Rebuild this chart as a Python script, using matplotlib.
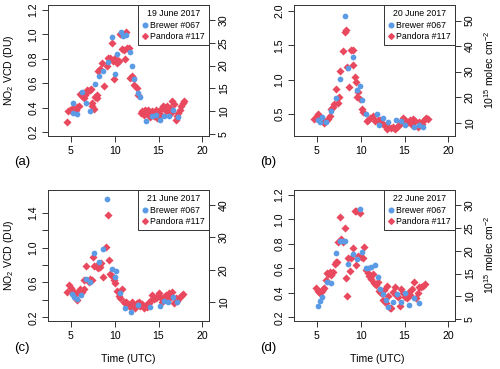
import matplotlib
matplotlib.use("Agg")
import matplotlib.pyplot as plt
from matplotlib.lines import Line2D

plt.rcParams["font.family"] = ["Liberation Sans", "DejaVu Sans"]
plt.rcParams["mathtext.fontset"] = "custom"
plt.rcParams["mathtext.rm"] = "Liberation Sans"
plt.rcParams["mathtext.it"] = "Liberation Sans:italic"

# ---------------- data ----------------
dates = ["19 June 2017", "20 June 2017", "21 June 2017", "22 June 2017"]
panel_tags = ["(a)", "(b)", "(c)", "(d)"]
series_names = ["Brewer #067", "Pandora #117"]

# Panel (a)
brewer_a_t = [5.2, 5.3, 5.7, 6.25, 6.7, 7.2, 7.7, 8.2, 8.7, 9.25, 9.7, 10.0, 10.25, 10.7, 11.0,
              11.25, 11.7, 11.95, 12.2, 12.65, 12.9, 13.6, 14.2, 14.7, 15.15, 15.65, 16.15, 16.6, 17.2]
brewer_a_v = [0.437, 0.355, 0.35, 0.527, 0.437, 0.37, 0.59, 0.66, 0.696, 0.77, 0.98, 0.674, 0.843, 1.023, 0.987,
              0.993, 0.854, 0.737, 0.636, 0.52, 0.49, 0.29, 0.33, 0.34, 0.295, 0.33, 0.33, 0.38, 0.32]
pandora_a_t = [4.51, 4.73, 4.92, 5.11, 5.30, 5.46, 5.61, 5.76, 5.95,
               6.06, 6.33, 6.52, 6.63, 6.83, 6.98, 7.13, 7.28,
               7.36, 7.47, 7.59, 7.78, 7.93, 8.04,
               8.12, 8.35, 8.57, 8.80, 9.07, 9.26, 9.45,
               9.68, 9.79, 9.94, 10.06, 10.17, 10.32, 10.44, 10.55,
               10.82, 11.01, 11.16, 11.31, 11.46, 11.58,
               11.73, 11.92, 12.11, 12.22, 12.49, 12.68,
               12.98, 13.14, 13.29, 13.44, 13.59, 13.75, 13.90, 14.05, 14.20, 14.35, 14.51, 14.66, 14.81, 14.96,
               15.11, 15.27, 15.46, 15.65, 15.80, 15.95, 16.10, 16.25, 16.41, 16.56, 16.71,
               16.94, 17.09, 17.24, 17.40, 17.55, 17.74, 17.85]
pandora_a_v = [0.282, 0.369, 0.377, 0.388, 0.396, 0.369, 0.383, 0.404, 0.415,
               0.511, 0.492, 0.475, 0.502, 0.546, 0.532, 0.546, 0.551,
               0.437, 0.410, 0.391, 0.486, 0.500, 0.478,
               0.701, 0.715, 0.769, 0.579, 0.737, 0.805, 0.805,
               0.933, 0.778, 0.636, 0.805, 0.791, 0.764, 0.778, 1.007,
               0.878, 0.873, 0.797, 1.023, 0.892, 0.887,
               0.641, 0.655, 0.641, 0.587, 0.560, 0.505,
               0.355, 0.369, 0.342, 0.383, 0.355, 0.383, 0.342, 0.323, 0.369, 0.355, 0.328, 0.383, 0.314, 0.342,
               0.383, 0.342, 0.415, 0.404, 0.369, 0.415, 0.383, 0.396, 0.355, 0.451, 0.432,
               0.295, 0.328, 0.355, 0.383, 0.415, 0.437, 0.456]

# Panel (b)
brewer_b_t = [5.19, 5.34, 5.57, 6.10, 6.63, 7.13, 7.62, 8.16, 8.61, 9.11, 9.60, 9.90, 10.13, 10.59,
              11.84, 12.11, 12.60, 13.17, 14.01, 14.58, 15.08, 16.10, 16.60, 17.05]
brewer_b_v = [0.408, 0.378, 0.45, 0.39, 0.54, 0.726, 1.005, 1.92, 1.174, 1.323, 0.856, 0.915, 0.706, 0.493,
              0.493, 0.343, 0.443, 0.378, 0.408, 0.393, 0.343, 0.318, 0.333, 0.318]
pandora_b_t = [4.70, 5.00, 5.19, 5.46, 5.65, 5.84, 6.03, 6.29, 6.48, 6.60, 6.79, 6.98, 7.17, 7.36, 7.55,
               7.66, 8.04, 8.23, 8.35, 8.42, 8.65, 8.84, 9.07, 9.18, 9.33, 9.45, 9.56, 9.75, 9.94, 10.13,
               10.32, 10.70, 10.89, 11.08, 11.35, 11.65, 11.92, 12.19, 12.41, 12.68, 12.95, 13.17, 13.44,
               13.63, 13.90, 14.13, 14.39, 14.58, 14.85, 15.08, 15.34, 15.61, 15.84, 15.99, 16.22, 16.48,
               16.67, 16.98, 17.24, 17.43, 17.62]
pandora_b_v = [0.428, 0.468, 0.493, 0.418, 0.393, 0.368, 0.393, 0.428, 0.468, 0.577, 0.602, 0.642, 0.866, 0.667, 0.741,
               1.124, 1.423, 1.701, 1.721, 1.189, 0.891, 1.438, 1.214, 1.438, 1.04, 0.965, 0.741, 0.816, 0.716, 0.577,
               0.527, 0.393, 0.418, 0.443, 0.468, 0.393, 0.408, 0.418, 0.368, 0.343, 0.279, 0.308, 0.294,
               0.318, 0.279, 0.318, 0.343, 0.368, 0.443, 0.408, 0.378, 0.418, 0.343, 0.428, 0.393, 0.318,
               0.378, 0.358, 0.418, 0.443, 0.428]

# Panel (c)
brewer_c_t = [5.15, 5.38, 5.69, 6.15, 6.68, 7.14, 7.67, 8.17, 8.66, 9.12, 9.66, 10.0, 10.19, 10.65,
              11.22, 11.87, 12.63, 14.08, 15.11, 15.61, 16.11, 16.60, 17.10]
brewer_c_v = [0.467, 0.436, 0.41, 0.455, 0.635, 0.601, 0.933, 0.83, 0.983, 1.557, 0.754, 0.666, 0.731, 0.482,
              0.31, 0.264, 0.341, 0.314, 0.333, 0.387, 0.379, 0.429, 0.371]
pandora_c_t = [4.54, 4.81, 5.00, 5.19, 5.38, 5.57, 5.76, 5.92, 6.07, 6.26, 6.45, 6.56, 6.76, 7.02, 7.21,
               7.37, 7.52, 7.67, 7.90, 8.05, 8.21, 8.36, 8.47, 8.66, 8.97, 9.20, 9.39, 9.50, 9.73, 9.89,
               10.08, 10.27, 10.46, 10.65, 10.88, 11.03, 11.18, 11.34, 11.56, 11.72, 11.95, 12.18, 12.37,
               12.56, 12.79, 12.94, 13.13, 13.32, 13.55, 13.70, 13.89, 14.08, 14.27, 14.47, 14.66, 14.85,
               15.04, 15.23, 15.42, 15.61, 15.80, 15.99, 16.18, 16.37, 16.56, 16.76, 16.95, 17.14, 17.37,
               17.60, 17.79]
pandora_c_v = [0.494, 0.57, 0.54, 0.501, 0.486, 0.463, 0.398, 0.501, 0.524, 0.494, 0.524, 0.628, 0.788, 0.608, 0.635,
               0.628, 0.895, 0.788, 0.788, 0.769, 0.80, 0.78, 0.819, 0.666, 1.002, 1.373, 0.857, 0.693, 0.673, 0.628,
               0.589, 0.501, 0.444, 0.425, 0.524, 0.379, 0.36, 0.371, 0.348, 0.322, 0.379, 0.333, 0.302,
               0.36, 0.379, 0.333, 0.348, 0.302, 0.341, 0.322, 0.36, 0.387, 0.455, 0.406, 0.417, 0.436,
               0.475, 0.417, 0.379, 0.436, 0.455, 0.406, 0.475, 0.436, 0.494, 0.36, 0.417, 0.387, 0.425,
               0.448, 0.463]

# Panel (d)
brewer_d_t = [5.15, 5.34, 5.57, 6.18, 6.63, 7.13, 7.62, 7.93, 8.16, 8.61, 9.11, 9.60, 9.90, 10.13, 10.59,
              10.89, 11.20, 11.62, 11.92, 12.19, 12.60, 12.87, 13.17, 13.63, 14.09, 14.62, 15.08, 15.53,
              16.10, 16.60]
brewer_d_v = [0.295, 0.334, 0.369, 0.492, 0.483, 0.723, 0.827, 0.827, 0.827, 0.633, 0.718, 0.677, 1.086, 0.731, 0.606,
              0.6, 0.609, 0.628, 0.532, 0.432, 0.388, 0.342, 0.287, 0.328, 0.391, 0.323, 0.396, 0.301,
              0.355, 0.314]
pandora_d_t = [4.89, 5.08, 5.27, 5.42, 5.57, 5.72, 5.87, 6.03, 6.18, 6.33, 6.48, 6.63, 6.79, 7.02, 7.17,
               7.32, 7.47, 7.66, 7.81, 8.00, 8.23, 8.38, 8.46, 8.61, 8.80, 8.95, 9.14, 9.30, 9.45, 9.52,
               9.75, 9.90, 10.06, 10.21, 10.40, 10.59, 10.82, 10.97, 11.16, 11.35, 11.54, 11.73, 11.92,
               12.11, 12.34, 12.49, 12.68, 12.87, 13.02, 13.17, 13.33, 13.48, 13.71, 13.86, 14.01, 14.24,
               14.47, 14.62, 14.85, 15.00, 15.23, 15.46, 15.65, 15.84, 16.06, 16.29, 16.48, 16.67, 16.90,
               17.13, 17.36]
pandora_d_v = [0.443, 0.415, 0.404, 0.396, 0.415, 0.432, 0.443, 0.505, 0.56, 0.551, 0.568, 0.546, 0.573, 0.633, 0.65,
               0.655, 0.813, 1.017, 0.838, 0.818, 0.928, 0.519, 0.374, 0.682, 0.579, 0.682, 0.764, 1.069, 1.069, 0.628,
               0.701, 1.05, 0.696, 0.688, 0.772, 0.587, 0.56, 0.541, 0.511, 0.551, 0.478, 0.464, 0.486,
               0.415, 0.396, 0.342, 0.424, 0.314, 0.459, 0.374, 0.279, 0.279, 0.404, 0.451, 0.383, 0.369,
               0.295, 0.432, 0.396, 0.369, 0.355, 0.404, 0.383, 0.432, 0.486, 0.355, 0.396, 0.451, 0.451,
               0.459, 0.47]

brewer_t = [brewer_a_t, brewer_b_t, brewer_c_t, brewer_d_t]
brewer_v = [brewer_a_v, brewer_b_v, brewer_c_v, brewer_d_v]
pandora_t = [pandora_a_t, pandora_b_t, pandora_c_t, pandora_d_t]
pandora_v = [pandora_a_v, pandora_b_v, pandora_c_v, pandora_d_v]

x_ticks = [5, 10, 15, 20]
left_ticks = [[0.2, 0.4, 0.6, 0.8, 1.0, 1.2],
              [0.5, 1.0, 1.5, 2.0],
              [0.2, 0.4, 0.6, 0.8, 1.0, 1.2, 1.4],
              [0.2, 0.4, 0.6, 0.8, 1.0, 1.2]]
left_labels = [["0.2", "0.4", "0.6", "0.8", "1.0", "1.2"],
               ["0.5", "1.0", "1.5", "2.0"],
               ["0.2", "", "0.6", "", "1.0", "", "1.4"],
               ["0.2", "0.4", "0.6", "0.8", "1.0", "1.2"]]
right_ticks = [[5, 10, 15, 20, 25, 30],
               [10, 20, 30, 40, 50],
               [10, 20, 30, 40],
               [5, 10, 15, 20, 25, 30]]
ylims = [(0.167, 1.241), (0.18, 2.087), (0.158, 1.66), (0.17, 1.241)]
DU_TO_1E15 = 26.87

# ---------------- style ----------------
BLUE = "#5B9BE6"
RED = "#E9495E"
FS = 7.6
AX_COL = "#333333"

fig = plt.figure(figsize=(5.0, 3.69), dpi=100)
W, H = 500.0, 369.0
boxes = [(48, 5, 209, 136), (294, 5, 455, 136), (48, 190, 209, 321), (294, 190, 455, 321)]

for i in range(4):
    l, t, r, b = boxes[i]
    ax = fig.add_axes([l / W, 1 - b / H, (r - l) / W, (b - t) / H])
    ax.scatter(pandora_t[i], pandora_v[i], marker="D", s=17, color=RED, linewidths=0, zorder=2)
    ax.scatter(brewer_t[i], brewer_v[i], marker="o", s=17, color=BLUE, linewidths=0, zorder=3)
    ax.set_xlim(2.4, 20.75)
    ax.set_ylim(*ylims[i])
    ax.set_xticks(x_ticks)
    ax.set_xticklabels([str(v) for v in x_ticks], fontsize=FS)
    ax.set_yticks(left_ticks[i])
    ax.set_yticklabels(left_labels[i], fontsize=FS, rotation=90, va="center")
    ax.tick_params(direction="out", length=4, width=0.7, pad=3, color=AX_COL)
    for s in ax.spines.values():
        s.set_linewidth(0.7)
        s.set_color(AX_COL)

    sec = ax.secondary_yaxis("right", functions=(lambda d: d * DU_TO_1E15, lambda m: m / DU_TO_1E15))
    sec.set_yticks(right_ticks[i])
    sec.set_yticklabels([str(v) for v in right_ticks[i]], fontsize=FS, rotation=90, va="center")
    sec.tick_params(direction="out", length=4, width=0.7, pad=3, color=AX_COL)
    sec.spines["right"].set_linewidth(0.7)
    sec.spines["right"].set_color(AX_COL)

    handles = [Line2D([], [], marker="o", linestyle="none", color=BLUE, markersize=3.3),
               Line2D([], [], marker="D", linestyle="none", color=RED, markersize=2.9)]
    leg = ax.legend(handles, series_names, title=dates[i], loc="upper right",
                    fontsize=6.3, title_fontsize=6.3, frameon=True, fancybox=False,
                    borderaxespad=0, handlelength=0.5, handletextpad=0.35, borderpad=0.5,
                    labelspacing=0.25, framealpha=1)
    leg.get_frame().set_edgecolor(AX_COL)
    leg.get_frame().set_linewidth(0.7)

    tag_x = [22, 268, 22, 268][i]
    tag_y = [162, 162, 348, 348][i]
    fig.text(tag_x / W, 1 - tag_y / H, panel_tags[i], fontsize=9.5, ha="center", va="center")

fig.text(9 / W, 1 - 70 / H, "NO$_2$ VCD (DU)", rotation=90, fontsize=FS, ha="center", va="center")
fig.text(9 / W, 1 - 255 / H, "NO$_2$ VCD (DU)", rotation=90, fontsize=FS, ha="center", va="center")
fig.text(489 / W, 1 - 70 / H, "10$^{15}$ molec cm$^{-2}$", rotation=90, fontsize=FS, ha="center", va="center")
fig.text(489 / W, 1 - 255 / H, "10$^{15}$ molec cm$^{-2}$", rotation=90, fontsize=FS, ha="center", va="center")
fig.text(128 / W, 1 - 359 / H, "Time (UTC)", fontsize=FS, ha="center", va="center")
fig.text(377 / W, 1 - 359 / H, "Time (UTC)", fontsize=FS, ha="center", va="center")

fig.savefig("out.png", dpi=100)
